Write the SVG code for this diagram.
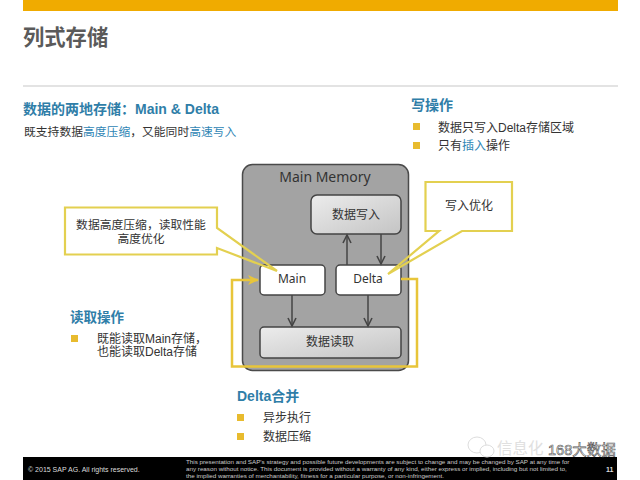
<svg xmlns="http://www.w3.org/2000/svg" width="640" height="480" viewBox="0 0 640 480">
<style>
text{font-family:"Liberation Sans","Noto Sans CJK SC",sans-serif}
.cjk{font-family:"Noto Sans","Noto Sans CJK SC",sans-serif}
.h{font-size:14px;font-weight:700;fill:#2f7ea8}
.b{font-size:12px;fill:#333}
.blue{fill:#2f86b5}
.sq{fill:#e8bb2e}
.box{stroke:#444;stroke-width:1.5}
.lab{font-size:12px;fill:#333;text-anchor:middle}
.call{fill:none;stroke:#e3d050;stroke-width:2.2}
.flow{fill:none;stroke:#e8c53a;stroke-width:2.5}
.arr{stroke:#444;stroke-width:1.5;fill:none;marker-end:url(#a)}
.foot{font-size:6.25px;fill:#ccc}
</style>
<defs>
<marker id="a" markerWidth="12" markerHeight="12" refX="9" refY="5" orient="auto" markerUnits="userSpaceOnUse"><path d="M1 1L9 5L1 9" fill="none" stroke="#444" stroke-width="1.6"/></marker>
<marker id="y" markerWidth="14" markerHeight="14" refX="11" refY="6" orient="auto" markerUnits="userSpaceOnUse"><path d="M1 1L12 6L1 11L4 6Z" fill="#e8c53a"/></marker>
<linearGradient id="g" x1="0" y1="0" x2="1" y2="1"><stop offset="0" stop-color="#ececec"/><stop offset="1" stop-color="#c4c4c4"/></linearGradient>
</defs>
<rect width="640" height="480" fill="#fff"/>
<rect x="23" y="0" width="595" height="11" fill="#f0ab00"/>
<text x="23" y="45" font-size="21.3" font-weight="700" fill="#5a5a5a">列式存储</text>
<rect x="23" y="85.5" width="595" height="1" fill="#c8c8c8"/>

<text class="h" x="23" y="114">数据的两地存储：Main &amp; Delta</text>
<text class="b" x="24" y="136" style="font-size:11.8px">既支持数据<tspan class="blue">高度压缩</tspan>，又能同时<tspan class="blue">高速写入</tspan></text>

<text class="h" x="411" y="110">写操作</text>
<rect class="sq" x="413" y="123" width="7" height="7"/>
<rect class="sq" x="413" y="142" width="7" height="7"/>
<text class="b" x="438" y="132">数据只写入Delta存储区域</text>
<text class="b" x="438" y="150">只有<tspan class="blue">插入</tspan>操作</text>

<text class="h" x="70" y="322" style="font-size:13.5px">读取操作</text>
<rect class="sq" x="71" y="335" width="7" height="7"/>
<text class="b" x="97" y="343">既能读取Main存储，</text>
<text class="b" x="97" y="356">也能读取Delta存储</text>

<text class="h" x="237" y="401">Delta合并</text>
<rect class="sq" x="237" y="414" width="7" height="7"/>
<rect class="sq" x="237" y="433" width="7" height="7"/>
<text class="b" x="263" y="422">异步执行</text>
<text class="b" x="263" y="441">数据压缩</text>

<g id="memory">
<rect x="242.5" y="164.5" width="166" height="206" rx="10" fill="#a3a3a3" stroke="#4a4a4a" stroke-width="1.5"/>
<text class="cjk" x="325" y="182" font-size="14" fill="#333" text-anchor="middle">Main Memory</text>
</g>
<g id="write">
<rect class="box" x="311" y="195" width="90" height="39" rx="6" fill="url(#g)"/>
<text class="lab" x="356" y="219">数据写入</text>
</g>
<g id="main">
<rect class="box" x="260" y="265" width="65" height="30" rx="4" fill="#fff"/>
<text class="lab cjk" x="292" y="283">Main</text>
</g>
<g id="delta">
<rect class="box" x="336" y="265" width="65" height="30" rx="4" fill="#fff"/>
<text class="lab cjk" x="368" y="283">Delta</text>
</g>
<g id="read">
<rect class="box" x="260" y="327" width="141" height="31" rx="4" fill="url(#g)"/>
<text class="lab" x="330" y="346">数据读取</text>
</g>

<g id="connectors">
<path class="arr" d="M347 265V235"/>
<path class="arr" d="M381 234V264"/>
<path class="arr" d="M292 295V326"/>
<path class="arr" d="M368 295V326"/>
<path class="flow" d="M401 279H417V366.500H232V280H258" marker-end="url(#y)"/>
</g>

<g id="callout-left">
<path class="call" d="M65 207.500H217V228L277 271L217 248V254.500H65Z"/>
<text class="lab" x="141" y="229" style="font-size:11.800px">数据高度压缩，读取性能</text>
<text class="lab" x="141" y="243" style="font-size:11.800px">高度优化</text>
</g>
<g id="callout-right">
<path class="call" d="M425.500 182H512V231H462L388 274L439 231H425.500Z"/>
<text class="lab" x="469" y="210">写入优化</text>
</g>

<rect x="23" y="457" width="594" height="23" fill="#000"/>
<text x="28" y="472" font-size="7" fill="#ddd">©  2015 SAP AG. All rights reserved.</text>
<text class="foot" x="186" y="463.500">This presentation and SAP's strategy and possible future developments are subject to change and may be changed by SAP at any time for</text>
<text class="foot" x="186" y="470.500">any reason without notice. This document is provided without a warranty of any kind, either express or implied, including but not limited to,</text>
<text class="foot" x="186" y="478">the implied warranties of merchantability, fitness for a particular purpose, or non-infringement.</text>
<text x="606" y="472" font-size="7" font-weight="700" fill="#ddd">11</text>

<g id="watermark">
<ellipse cx="477" cy="445" rx="9" ry="8" fill="#fff" stroke="#ddd"/>
<ellipse cx="487" cy="451" rx="7" ry="6" fill="#fff" stroke="#ddd"/>
<text x="497" y="454" font-size="15.500" fill="#e0e0e0">信息化</text>
<text x="548" y="454.500" font-size="14.500" fill="#fff" stroke="#555" stroke-width=".6">168大数据</text>
</g>
</svg>
